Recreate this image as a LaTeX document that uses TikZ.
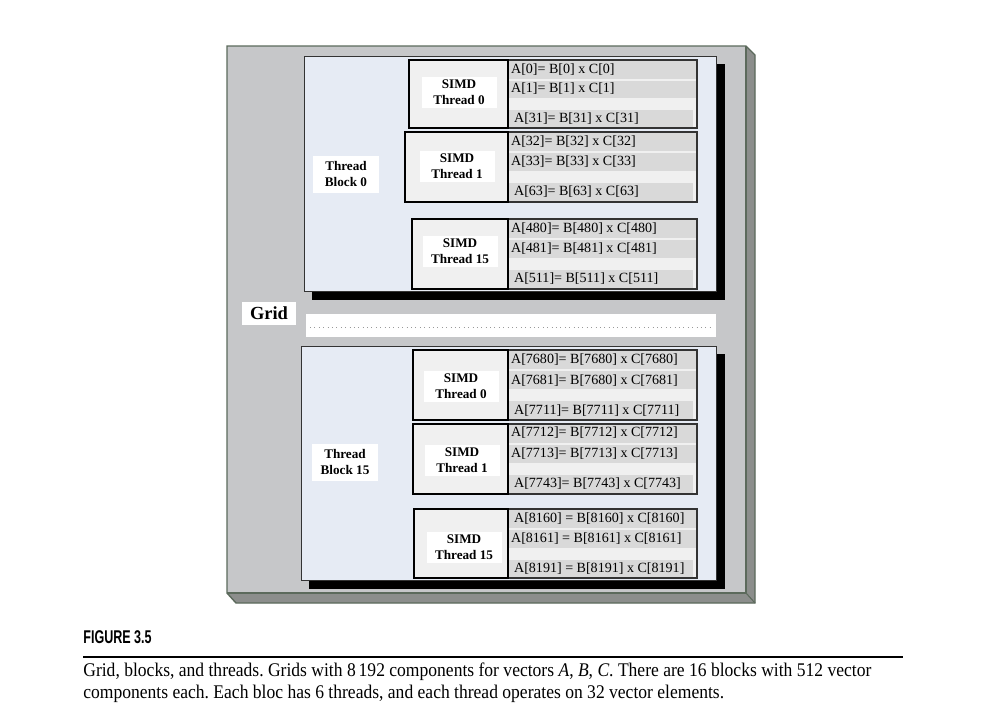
\documentclass[tikz,border=0pt]{standalone}
\usepackage{fontspec}
\setmainfont{Liberation Serif}
\newfontfamily\headfont{Liberation Sans}
\usetikzlibrary{calc}

\definecolor{gridgray}{RGB}{198,199,201}
\definecolor{bevelgray}{RGB}{140,142,140}
\definecolor{gridedge}{RGB}{92,106,92}
\definecolor{panelblue}{RGB}{230,235,244}
\definecolor{rowgray}{RGB}{217,217,217}
\definecolor{lightgray}{RGB}{240,240,240}

\begin{document}
\frenchspacing
\begin{tikzpicture}[x=0.02cm, y=-0.02cm,
  panel/.style={fill=panelblue, draw=black!80, line width=0.5pt},
  simdbox/.style={fill=lightgray, draw=black, line width=1.3pt},
  datacol/.style={draw=black!80, line width=0.6pt},
  simdlabel/.style={fill=white, align=center, inner sep=0pt, minimum width=1.5cm, minimum height=0.62cm, font=\bfseries\fontsize{7.5}{9}\selectfont},
  blocklabel/.style={fill=white, align=center, inner sep=0pt, minimum width=1.32cm, minimum height=0.74cm, font=\bfseries\fontsize{7.5}{9}\selectfont},
  rowtext/.style={anchor=west, inner sep=1pt, font=\fontsize{8}{9}\selectfont},
  captext/.style={anchor=west, inner sep=0pt, font=\fontsize{11}{12}\selectfont}]

\useasboundingbox (0,0) rectangle (1000,708);
\fill[white] (0,0) rectangle (1000,708);

% grid with bevel
\fill[bevelgray] (227,593) -- (236,603) -- (755,603) -- (755,55) -- (746,46) -- (746,593) -- cycle;
\fill[gridgray] (227,46) rectangle (746,593);
\draw[gridedge, line width=0.8pt] (227,593) -- (227,46) -- (746,46) -- (755,55) -- (755,603) -- (236,603) -- cycle;
\draw[gridedge, line width=0.6pt] (227,593) -- (746,593) -- (746,46);
\draw[gridedge, line width=0.6pt] (746,593) -- (755,603);

\node[fill=white, inner sep=0pt, minimum width=1.08cm, minimum height=0.46cm, font=\bfseries\fontsize{10.5}{12}\selectfont] (grid) at (269,313) {Grid};

\fill[white] (306,314) rectangle (716,337);
\draw[black!40, dotted, line width=0.5pt] (310,327) -- (712,327);

% thread block 0
\fill[black] (312,64) rectangle (725,300);
\draw[panel] (304,56) rectangle (716,291);
\node[blocklabel] (block0) at (346,174) {Thread\\Block 0};

\fill[lightgray] (508,60) rectangle (697,128);
\fill[rowgray] (509,61) rectangle (696,79);
\fill[rowgray] (509,81) rectangle (696,98);
\fill[rowgray] (509,110) rectangle (693,127);
\draw[datacol] (508,60) rectangle (697,128);
\draw[simdbox] (409,60) rectangle (508,128);
\node[simdlabel] (b0t0) at (459,92) {SIMD\\Thread 0};
\node[rowtext] (b0t0a) at (509,70) {A[0]= B[0] x C[0]};
\node[rowtext] (b0t0b) at (509,89) {A[1]= B[1] x C[1]};
\node[rowtext] (b0t0c) at (512,119) {A[31]= B[31] x C[31]};

\fill[lightgray] (508,132) rectangle (697,202);
\fill[rowgray] (509,133) rectangle (696,151);
\fill[rowgray] (509,153) rectangle (696,171);
\fill[rowgray] (509,183) rectangle (693,201);
\draw[datacol] (508,132) rectangle (697,202);
\draw[simdbox] (405,132) rectangle (508,202);
\node[simdlabel] (b0t1) at (457,166) {SIMD\\Thread 1};
\node[rowtext] (b0t1a) at (509,142) {A[32]= B[32] x C[32]};
\node[rowtext] (b0t1b) at (509,162) {A[33]= B[33] x C[33]};
\node[rowtext] (b0t1c) at (512,192) {A[63]= B[63] x C[63]};

\fill[lightgray] (508,219) rectangle (697,289);
\fill[rowgray] (509,220) rectangle (696,238);
\fill[rowgray] (509,240) rectangle (696,258);
\fill[rowgray] (509,270) rectangle (693,288);
\draw[datacol] (508,219) rectangle (697,289);
\draw[simdbox] (412,219) rectangle (508,289);
\node[simdlabel] (b0t15) at (460,251) {SIMD\\Thread 15};
\node[rowtext] (b0t15a) at (509,229) {A[480]= B[480] x C[480]};
\node[rowtext] (b0t15b) at (509,249) {A[481]= B[481] x C[481]};
\node[rowtext] (b0t15c) at (512,279) {A[511]= B[511] x C[511]};

% thread block 15
\fill[black] (309,354) rectangle (725,589);
\draw[panel] (301,346) rectangle (716,580);
\node[blocklabel] (block15) at (345,462) {Thread\\Block 15};

\fill[lightgray] (508,350) rectangle (697,420);
\fill[rowgray] (509,351) rectangle (696,369);
\fill[rowgray] (509,371) rectangle (696,389);
\fill[rowgray] (509,401) rectangle (693,419);
\draw[datacol] (508,350) rectangle (697,420);
\draw[simdbox] (413,350) rectangle (508,420);
\node[simdlabel] (b15t0) at (461,386) {SIMD\\Thread 0};
\node[rowtext] (b15t0a) at (509,360) {A[7680]= B[7680] x C[7680]};
\node[rowtext] (b15t0b) at (509,381) {A[7681]= B[7680] x C[7681]};
\node[rowtext] (b15t0c) at (512,411) {A[7711]= B[7711] x C[7711]};

\fill[lightgray] (508,424) rectangle (697,494);
\fill[rowgray] (509,425) rectangle (696,443);
\fill[rowgray] (509,445) rectangle (696,463);
\fill[rowgray] (509,475) rectangle (693,493);
\draw[datacol] (508,424) rectangle (697,494);
\draw[simdbox] (413,424) rectangle (508,494);
\node[simdlabel] (b15t1) at (462,460) {SIMD\\Thread 1};
\node[rowtext] (b15t1a) at (509,433) {A[7712]= B[7712] x C[7712]};
\node[rowtext] (b15t1b) at (509,454) {A[7713]= B[7713] x C[7713]};
\node[rowtext] (b15t1c) at (512,484) {A[7743]= B[7743] x C[7743]};

\fill[lightgray] (508,509) rectangle (697,578);
\fill[rowgray] (509,510) rectangle (696,528);
\fill[rowgray] (509,530) rectangle (696,548);
\fill[rowgray] (509,560) rectangle (693,577);
\draw[datacol] (508,509) rectangle (697,578);
\draw[simdbox] (414,509) rectangle (508,578);
\node[simdlabel] (b15t15) at (464,547) {SIMD\\Thread 15};
\node[rowtext] (b15t15a) at (512,519) {A[8160] = B[8160] x C[8160]};
\node[rowtext] (b15t15b) at (509,539) {A[8161] = B[8161] x C[8161]};
\node[rowtext] (b15t15c) at (512,569) {A[8191] = B[8191] x C[8191]};

% caption
\node[anchor=west, inner sep=0pt, font=\headfont\bfseries\fontsize{10.5}{12}\selectfont] (fig) at (83,637) {\scalebox{0.68}[1]{FIGURE 3.5}};
\draw[black, line width=0.6pt] (83,657) -- (903,657);
\node[captext] (cap1) at (83,672) {\scalebox{0.908}[1]{Grid, blocks, and threads. Grids with 8\,192 components for vectors \textit{A}, \textit{B}, \textit{C}. There are 16 blocks with 512 vector}};
\node[captext] (cap2) at (83,694) {\scalebox{0.908}[1]{components each. Each bloc has 6 threads, and each thread operates on 32 vector elements.}};

\end{tikzpicture}
\end{document}
